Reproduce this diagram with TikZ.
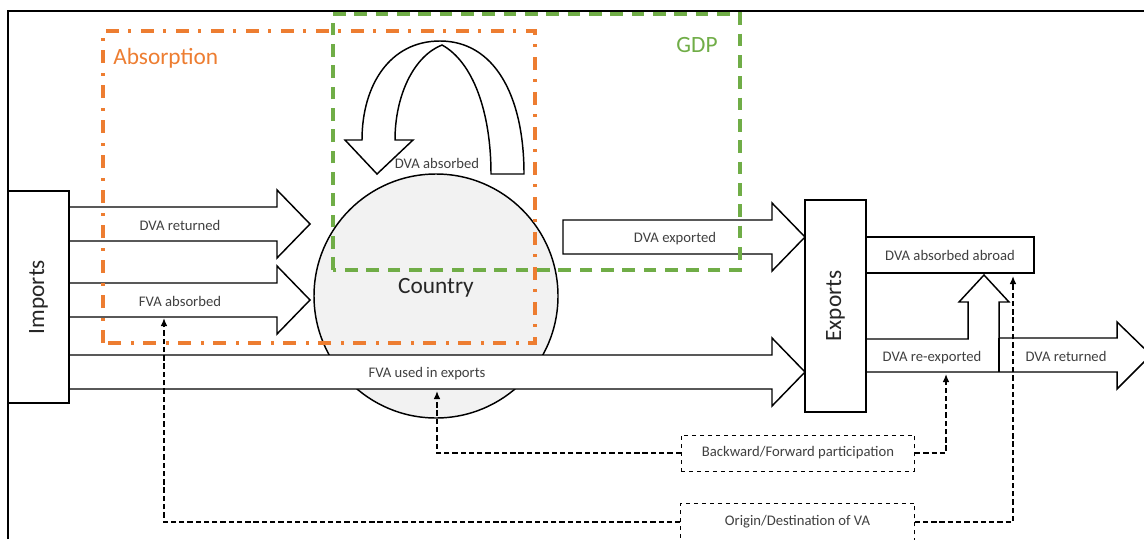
\documentclass[tikz,border=0pt]{standalone}
\usepackage{fontspec}
\setmainfont{Carlito}
\usetikzlibrary{arrows.meta}
\definecolor{absorange}{HTML}{ED7D31}
\definecolor{gdpgreen}{HTML}{70AD47}
\definecolor{txtgray}{HTML}{404040}
\definecolor{ctyfill}{HTML}{F2F2F2}
\tikzset{blk/.style = {draw, line width=1.1pt, fill=white, line join=miter},
           bx/.style = {draw, line width=1.1pt, fill=white, inner sep=0pt},
           lb/.style = {text=txtgray, inner sep=0pt, font=\fontsize{11}{13}\selectfont},
           bg/.style = {text=black!85, inner sep=0pt, font=\fontsize{17.5}{20}\selectfont},
           db/.style = {draw, dashed, line width=0.7pt, fill=white, inner sep=0pt, text=txtgray,
                        font=\fontsize{11}{13}\selectfont, minimum width=175pt},
           con/.style = {line width=1.1pt, dash pattern=on 4pt off 2.2pt, ->},
           ab/.style = {absorange, line width=2.3pt, dash pattern=on 9.75pt off 7pt on 2pt off 7.5pt},
           gd/.style = {gdpgreen, line width=2.3pt, dash pattern=on 9.5pt off 6.5pt}}
% block arrow: x start, x tip, y centre
\newcommand{\farrow}[3]{\draw[blk] (#1,#3-17) -- (#2-33,#3-17) -- (#2-33,#3-34) -- (#2,#3)
  -- (#2-33,#3+34) -- (#2-33,#3+17) -- (#1,#3+17) -- cycle;}

\begin{document}
\begin{tikzpicture}[x=0.75pt, y=-0.75pt, >={Latex[length=6pt,width=5pt]}]
    \useasboundingbox (0,0) rectangle (1144,539);
    \draw[line width=1.5pt] (8,539) -- (8,11) -- (1144,11);
    % the country
    \node[circle, draw, line width=1.1pt, fill=ctyfill, minimum size=183pt] (cty) at (436,296) {};
    % DVA absorbed (u-turn)
    \draw[blk] (524,174) .. controls (524,95) and (494,41) .. (440,41)
        .. controls (390,41) and (362,85) .. (362,140)
        -- (345,140) -- (377,174) -- (413,140) -- (395,140)
        .. controls (395,95) and (414,56) .. (442,45)
        .. controls (473,62) and (491,112) .. (491,174) -- cycle;
    % flows
    \farrow{69}{310}{224}
    \farrow{69}{310}{300}
    \farrow{69}{805}{372}
    \farrow{563}{805}{237}
    % re-exports
    \draw[blk] (866,339) -- (968,339) -- (968,302) -- (959,302) -- (984,275) -- (1009,302)
        -- (999,302) -- (999,338) -- (1117,338) -- (1117,322) -- (1151,355) -- (1117,389)
        -- (1117,372) -- (866,372);
    \draw[line width=1.1pt] (999,338) -- (999,372);
    \node[bx, minimum width=45.75pt, minimum height=159pt] (imp) at (38.5,297) {};
    \node[bx, minimum width=45.75pt, minimum height=159pt] (exp) at (835.5,306) {};
    \node[bx, lb, minimum width=126pt, minimum height=27pt] (abr) at (950,255) {DVA absorbed abroad};
    % absorption / GDP
    \draw[ab] (103,343) rectangle (535,31);
    \draw[gd] (333,270) rectangle (740,14);
    \node[bg, text=absorange, anchor=west] (abl) at (113,58) {Absorption};
    \node[bg, text=gdpgreen] (gdl) at (697,45) {GDP};
    \node[bg, rotate=90] at (imp) {Imports};
    \node[bg, rotate=90] at (exp) {Exports};
    \node[bg] (ctl) at (436,288) {Country};
    \node[lb] (dab) at (437,163) {DVA absorbed};
    \node[lb] (dvr) at (180,225) {DVA returned};
    \node[lb] (fab) at (180,301) {FVA absorbed};
    \node[lb] (fue) at (427,374) {FVA used in exports};
    \node[lb] (dex) at (675,239) {DVA exported};
    \node[lb] (drx) at (932,358) {DVA re-exported};
    \node[lb] (drt) at (1066,356) {DVA returned};
    % participation / origin
    \node[db, minimum height=27pt] (bf) at (798,453) {Backward/Forward participation};
    \node[db, minimum height=28.5pt] (od) at (797.5,522) {Origin/Destination of VA};
    \coordinate (fu) at (437,391);
    \coordinate (rx) at (946,374);
    \coordinate (fa) at (164,318);
    \coordinate (aa) at (1013,276);
    \draw[con] (bf.west) -| (fu);
    \draw[con] (bf.east) -| (rx);
    \draw[con] (od.west) -| (fa);
    \draw[con] (od.east) -| (aa);
\end{tikzpicture}
\end{document}
